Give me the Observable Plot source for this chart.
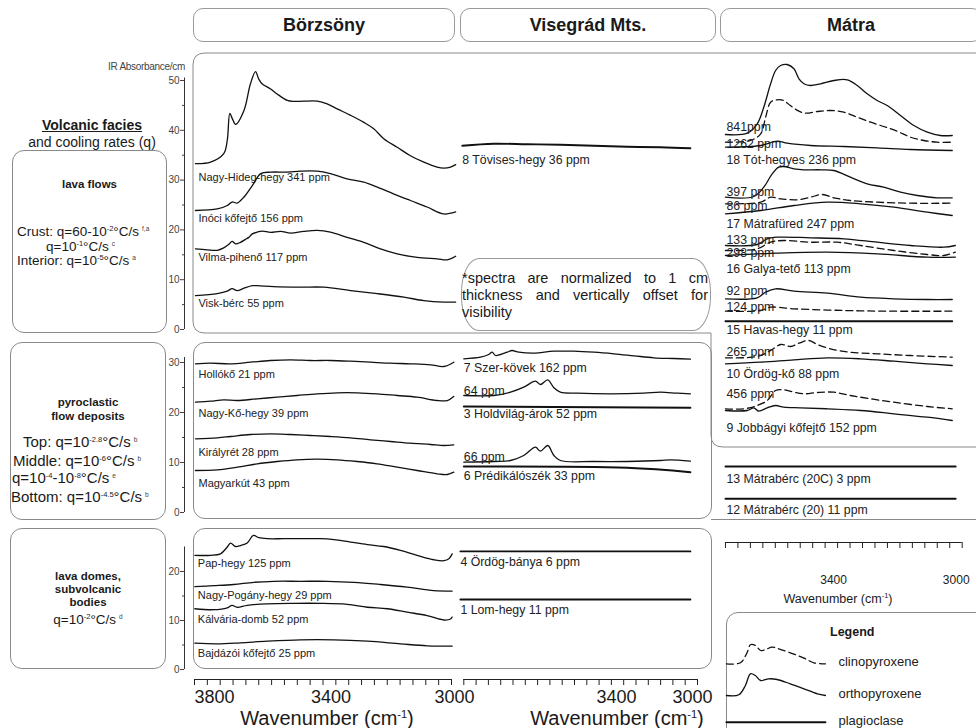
<!DOCTYPE html>
<html><head><meta charset="utf-8">
<script src="https://cdn.jsdelivr.net/npm/d3@7"></script>
<script src="https://cdn.jsdelivr.net/npm/@observablehq/plot@0.6"></script>
<style>
body{margin:0;background:#fff;font-family:"Liberation Sans",Arial,sans-serif;color:#1a1a1a}
#fig{position:relative;width:976px;height:728px;overflow:hidden;background:#fff}
.abs{position:absolute;white-space:nowrap}
.box{position:absolute;border:1px solid #8a8a8a;border-radius:12px;box-sizing:border-box}
.hdr{position:absolute;top:8px;height:34px;border:1px solid #9a9a9a;border-radius:10px;box-sizing:border-box;display:flex;align-items:center;justify-content:center;font-weight:bold;font-size:18px}
sup{font-size:7.5px;vertical-align:5px;line-height:0}
sup.fn{font-size:6.5px;color:#444;margin-left:3px}
</style></head><body><div id="fig"></div>
<script>
// ---------------- DATA (wavenumber cm-1, absorbance/cm incl. vertical offset) ----------------
// Börzsöny – lava flows
const nagyHidegHegy = [[3797,33.3],[3750,33.6],[3709,35.3],[3698,38.0],[3690,43.4],[3682,42.3],[3672,41.2],[3646,44.0],[3626,49.3],[3610,51.8],[3600,50.3],[3589,49.3],[3563,48.3],[3543,47.3],[3511,46.0],[3491,45.8],[3460,45.85],[3418,45.85],[3387,45.3],[3356,44.3],[3314,43.0],[3273,41.6],[3242,40.3],[3211,38.3],[3169,36.6],[3128,34.9],[3086,33.6],[3045,32.6],[3024,32.4],[3003,32.6],[2987,33.1]];
const inociKofejto = [[3797,23.9],[3729,24.2],[3698,24.9],[3683,25.6],[3667,25.4],[3646,26.6],[3620,28.9],[3594,31.3],[3563,31.6],[3511,31.6],[3470,31.8],[3418,31.8],[3377,31.3],[3325,30.25],[3273,29.6],[3231,28.6],[3179,27.2],[3128,25.9],[3076,24.6],[3024,23.2],[2987,23.6]];
const vilmaPiheno = [[3797,16.2],[3761,16.0],[3729,15.9],[3709,16.4],[3693,17.1],[3683,17.7],[3672,17.2],[3657,17.5],[3641,18.1],[3631,18.5],[3620,19.2],[3605,19.55],[3589,19.75],[3563,19.5],[3532,19.7],[3501,19.35],[3460,19.7],[3418,19.9],[3377,19.55],[3325,18.5],[3273,17.5],[3221,16.2],[3169,15.2],[3107,14.5],[3045,14.2],[3013,14.0],[2987,14.7]];
const viskBerc = [[3797,6.8],[3729,7.2],[3698,7.7],[3683,8.2],[3667,7.8],[3646,8.3],[3620,8.8],[3605,8.8],[3553,8.6],[3470,8.5],[3397,8.5],[3314,7.8],[3231,7.2],[3148,6.5],[3086,5.8],[3024,5.5],[2987,5.5]];
// Börzsöny – pyroclastic flow deposits
const holloko = [[3797,29.74],[3750,29.86],[3688,29.74],[3626,30.06],[3564,30.4],[3501,30.54],[3439,30.4],[3377,30.4],[3315,30.26],[3252,30.06],[3190,29.86],[3128,29.74],[3065,29.54],[3024,29.2],[2993,30.06]];
const nagyKoHegy = [[3797,22.06],[3750,22.26],[3709,22.54],[3667,22.4],[3605,22.74],[3543,23.06],[3481,23.4],[3418,23.74],[3356,23.94],[3294,23.94],[3232,23.74],[3169,23.4],[3107,23.06],[3045,22.4],[3013,22.4],[2993,23.2]];
const kiralyret = [[3797,14.74],[3729,14.94],[3688,15.2],[3626,15.6],[3564,15.74],[3501,15.6],[3439,15.4],[3377,15.2],[3315,14.94],[3252,14.54],[3190,14.2],[3128,13.86],[3065,13.6],[3024,13.4],[2993,13.54]];
const magyarkut = [[3797,8.4],[3729,8.54],[3667,9.06],[3605,9.74],[3543,10.2],[3481,10.54],[3418,10.66],[3356,10.54],[3294,10.2],[3232,9.74],[3169,9.06],[3107,8.4],[3045,7.74],[3013,7.6],[2993,8.06]];
// Börzsöny – lava domes
const papHegy = [[3799,23.3],[3750,23.3],[3719,23.6],[3698,25.0],[3688,25.8],[3672,25.1],[3657,25.3],[3636,25.8],[3617,27.35],[3600,26.9],[3574,26.7],[3522,26.7],[3470,26.7],[3408,26.7],[3366,26.5],[3314,26.0],[3262,25.5],[3211,25.1],[3159,24.3],[3107,23.3],[3055,22.4],[3024,22.2],[3008,22.6],[2998,23.6]];
const nagyPoganyHegy = [[3799,16.9],[3740,17.1],[3678,17.35],[3615,17.8],[3553,18.0],[3470,18.0],[3387,18.0],[3304,17.8],[3221,17.35],[3138,16.8],[3055,16.1],[2998,16.0]];
const kalvariaDomb = [[3799,12.4],[3740,12.2],[3698,12.6],[3683,13.1],[3667,12.7],[3636,13.1],[3574,13.4],[3491,13.5],[3408,13.5],[3325,13.3],[3262,12.7],[3200,12.4],[3138,11.7],[3076,11.0],[3024,10.1],[3003,10.3],[2998,10.7]];
const bajdazoiKofejto = [[3799,5.37],[3729,5.24],[3657,5.45],[3574,5.78],[3470,6.06],[3366,6.06],[3262,5.78],[3159,5.24],[3076,4.84],[2998,4.76]];
// Visegrád Mts.
const tovisesHegy = [[3765,36.9],[3662,37.3],[3554,37.2],[3446,37.1],[3337,36.9],[3229,36.7],[3120,36.6],[3023,36.4]];
const szerKovek = [[3760,30.74],[3706,31.06],[3679,31.6],[3668,32.06],[3657,31.4],[3641,31.6],[3619,32.06],[3603,32.4],[3581,32.06],[3532,31.86],[3467,32.26],[3402,32.26],[3337,32.06],[3272,31.74],[3207,31.34],[3142,30.94],[3077,30.8],[3023,30.66]];
const holdvilag64 = [[3760,23.4],[3662,23.4],[3608,24.06],[3565,25.06],[3527,26.26],[3511,25.6],[3487,26.54],[3467,24.94],[3446,24.06],[3391,23.86],[3283,23.74],[3175,23.86],[3120,24.06],[3066,23.86],[3023,23.74]];
const holdvilag52 = [[3760,21.2],[3023,20.94]];
const predikalo66 = [[3760,10.06],[3662,10.2],[3608,10.4],[3565,11.4],[3527,13.06],[3511,12.26],[3487,13.4],[3467,11.4],[3446,10.4],[3337,10.2],[3229,10.2],[3120,10.4],[3088,10.54],[3023,10.26]];
const predikalo33 = [[3760,9.2],[3229,8.94],[3023,8.06]];
const ordogBanya = [[3771,24.1],[3023,24.1]];
const lomHegy = [[3771,14.3],[3023,14.3]];
// Mátra (one stacked column)
const totHegyesOpx = [[3760,79.2],[3690,79.46],[3658,81.34],[3637,84.66],[3615,89.34],[3599,92],[3583,93],[3562,93.2],[3540,92.34],[3524,90.34],[3508,89.34],[3487,89],[3455,89.34],[3412,90],[3369,90.14],[3337,89],[3305,87.34],[3273,86],[3241,85],[3198,83],[3155,81],[3112,79.66],[3070,79],[3032,79]];
const totHegyesCpx = [[3760,77.66],[3680,78],[3647,79.34],[3631,82.66],[3615,85.66],[3595,86.14],[3573,86],[3552,85],[3524,83.86],[3503,83.46],[3465,83.8],[3423,84],[3380,83.66],[3337,82.66],[3294,81.66],[3252,80.8],[3209,79.86],[3166,78.66],[3123,78],[3080,77.66],[3032,77.66]];
const totHegyesPlag = [[3760,76.66],[3647,77],[3594,77.86],[3562,77.46],[3487,77],[3380,76.8],[3273,76.54],[3166,76.2],[3032,76]];
const matrafuredOpx = [[3760,66.66],[3669,66.8],[3637,68.66],[3610,71.34],[3589,72.66],[3573,72.8],[3540,72.34],[3508,72.14],[3455,72.14],[3412,72],[3359,70.66],[3305,69.34],[3252,68.66],[3198,67.66],[3144,67],[3080,66.54],[3032,66.54]];
const matrafuredCpx = [[3760,65.34],[3647,65.66],[3615,66.66],[3583,66.34],[3530,66.14],[3487,66.66],[3449,67.2],[3412,66.54],[3359,66],[3273,65.66],[3166,65.46],[3032,65.46]];
const matrafuredPlag = [[3760,63.34],[3647,64],[3540,65],[3433,65.66],[3326,65.34],[3219,64.66],[3112,63.66],[3032,63]];
const galyaTetoOpx = [[3760,57],[3658,57.2],[3626,58.34],[3594,58.66],[3487,58.54],[3380,58.34],[3273,57.66],[3166,57],[3059,56.66],[3022,57]];
const galyaTetoCpx = [[3760,56],[3658,56.34],[3615,57.66],[3573,58],[3487,57.66],[3401,57.66],[3326,57],[3219,56],[3112,55.2],[3059,55],[3022,55.66]];
const galyaTetoPlag = [[3760,55],[3594,55.46],[3433,55.66],[3273,55.34],[3112,54.66],[3022,54.66]];
const havasHegyOpx = [[3760,46.34],[3658,46.54],[3631,47.66],[3599,48.34],[3540,47.86],[3433,47.46],[3326,46.66],[3219,46.34],[3112,46.2],[3032,46.2]];
const havasHegyCpx = [[3760,43.86],[3647,44],[3615,44.66],[3540,44.34],[3380,44],[3219,43.86],[3032,43.86]];
const havasHegyPlag = [[3760,41.86],[3032,41.86]];
const ordogKoCpx = [[3760,34.54],[3658,34.8],[3615,36],[3583,37.2],[3551,36.8],[3524,37.46],[3492,38],[3465,37.2],[3423,36.34],[3359,35.66],[3273,35.34],[3166,35],[3032,34.66]];
const ordogKoPlag = [[3760,33.34],[3647,33.66],[3540,34.14],[3433,34.54],[3326,34.34],[3219,33.86],[3112,33.34],[3032,33]];
const jobbagyiCpx = [[3760,24.34],[3701,24.34],[3658,25],[3626,26],[3599,28],[3573,28.14],[3540,27.66],[3508,27.34],[3465,27.6],[3412,27.66],[3359,27],[3294,26.34],[3219,25.66],[3112,24.8],[3032,24.34]];
const jobbagyiPlag = [[3760,24],[3690,24],[3669,24.54],[3653,23.86],[3626,24.54],[3599,25],[3573,24.66],[3519,24.54],[3433,24.34],[3326,24],[3219,23.34],[3112,22.66],[3032,22]];
const matraberc20C = [[3760,12.8],[3021,12.8]];
const matraberc20 = [[3760,6.34],[3021,6.34]];
// Legend curves
const legendCpx = [[3757,12.34],[3712,12.54],[3690,14.66],[3680,16.14],[3664,16],[3647,15],[3631,15.2],[3610,15.66],[3589,15.34],[3552,14.54],[3508,13.46],[3476,12.54],[3439,12.34]];
const legendOpx = [[3757,6],[3717,6.14],[3696,8],[3680,10.34],[3664,10],[3647,9],[3621,9.34],[3594,9.2],[3552,8.34],[3508,7.34],[3465,6.34],[3439,6]];
const legendPlag = [[3757,0.66],[3439,0.66]];

// tick values
const yTicksLava = [0,10,20,30,40,50], yMinorLava = [5,15,25,35,45];
const yTicksPyro = [0,10,20,30], yMinorPyro = [5,15,25];
const yTicksDome = [0,10,20], yMinorDome = [5,15];
const xTicksFull = d3.range(3800, 2999, -40);
const xTicksShort = d3.range(3760, 2999, -40);
const xLabelsFull = [3800, 3400, 3000];
const xLabelsShort = [3400, 3000];

// panel contents (label, line kind, label offset)
const borzsonyLava = [
  {data: nagyHidegHegy, label: "Nagy-Hideg-hegy 341 ppm", kind: "main", dy: 14},
  {data: inociKofejto, label: "Inóci kőfejtő 156 ppm", kind: "main", dy: 8},
  {data: vilmaPiheno, label: "Vilma-pihenő 117 ppm", kind: "main", dy: 9},
  {data: viskBerc, label: "Visk-bérc 55 ppm", kind: "main", dy: 8}];
const borzsonyPyro = [
  {data: holloko, label: "Hollókő 21 ppm", kind: "main", dy: 11},
  {data: nagyKoHegy, label: "Nagy-Kő-hegy 39 ppm", kind: "main", dy: 11},
  {data: kiralyret, label: "Királyrét 28 ppm", kind: "main", dy: 14},
  {data: magyarkut, label: "Magyarkút 43 ppm", kind: "main", dy: 13}];
const borzsonyDome = [
  {data: papHegy, label: "Pap-hegy 125 ppm", kind: "main", dy: 8},
  {data: nagyPoganyHegy, label: "Nagy-Pogány-hegy 29 ppm", kind: "main", dy: 9},
  {data: kalvariaDomb, label: "Kálvária-domb 52 ppm", kind: "main", dy: 11},
  {data: bajdazoiKofejto, label: "Bajdázói kőfejtő 25 ppm", kind: "main", dy: 10}];
const visegradLava = [
  {data: tovisesHegy, label: "8 Tövises-hegy 36 ppm", kind: "thick", dy: 14}];
const visegradPyro = [
  {data: szerKovek, label: "7 Szer-kövek 162 ppm", kind: "main", dy: 9},
  {data: holdvilag64, label: "64 ppm", kind: "main", dy: -4},
  {data: holdvilag52, label: "3 Holdvilág-árok 52 ppm", kind: "thick", dy: 8},
  {data: predikalo66, label: "66 ppm", kind: "main", dy: -5},
  {data: predikalo33, label: "6 Prédikálószék 33 ppm", kind: "thick", dy: 10}];
const visegradDome = [
  {data: ordogBanya, label: "4 Ördög-bánya 6 ppm", kind: "thick", dy: 11},
  {data: lomHegy, label: "1 Lom-hegy 11 ppm", kind: "thick", dy: 11}];
const matraSpectra = [
  {data: totHegyesOpx, label: "841ppm", kind: "main", dy: -7},
  {data: totHegyesCpx, label: "1262 ppm", kind: "dash", dy: 2},
  {data: totHegyesPlag, label: "18 Tót-hegyes 236 ppm", kind: "main", dy: 13},
  {data: matrafuredOpx, label: "397 ppm", kind: "main", dy: -5},
  {data: matrafuredCpx, label: "86 ppm", kind: "dash", dy: 2},
  {data: matrafuredPlag, label: "17 Mátrafüred 247 ppm", kind: "main", dy: 10},
  {data: galyaTetoOpx, label: "133 ppm", kind: "main", dy: -5},
  {data: galyaTetoCpx, label: "298 ppm", kind: "dash", dy: 3},
  {data: galyaTetoPlag, label: "16 Galya-tető 113 ppm", kind: "main", dy: 14},
  {data: havasHegyOpx, label: "92 ppm", kind: "main", dy: -8},
  {data: havasHegyCpx, label: "124 ppm", kind: "dash", dy: -4},
  {data: havasHegyPlag, label: "15 Havas-hegy 11 ppm", kind: "thick", dy: 9},
  {data: ordogKoCpx, label: "265 ppm", kind: "dash", dy: -6},
  {data: ordogKoPlag, label: "10 Ördög-kő 88 ppm", kind: "main", dy: 10},
  {data: jobbagyiCpx, label: "456 ppm", kind: "dash", dy: -15},
  {data: jobbagyiPlag, label: "9 Jobbágyi kőfejtő 152 ppm", kind: "main", dy: 18},
  {data: matraberc20C, label: "13 Mátrabérc (20C) 3 ppm", kind: "thick", dy: 13},
  {data: matraberc20, label: "12 Mátrabérc (20) 11 ppm", kind: "thick", dy: 11}];
const legendItems = [
  {data: legendCpx, label: "clinopyroxene", kind: "dash"},
  {data: legendOpx, label: "orthopyroxene", kind: "main"},
  {data: legendPlag, label: "plagioclase", kind: "thick"}];

// ---------------- RENDERING ----------------
const FONT = "Liberation Sans, Arial, sans-serif";
const fig = document.getElementById("fig");
const STYLE = {main: {w: 1.3}, thick: {w: 1.9}, dash: {w: 1.3, dash: "7,4"}};

function place(node, left, top) {
  node.style.position = "absolute";
  node.style.left = left + "px";
  node.style.top = top + "px";
  node.style.overflow = "visible";
  node.style.background = "transparent";
  node.style.maxWidth = "none";
  fig.appendChild(node);
}
function html(s, left, top, css = "") {
  const d = document.createElement("div");
  d.className = "abs"; d.innerHTML = s;
  d.style.cssText += `left:${left}px;top:${top}px;` + css;
  fig.appendChild(d); return d;
}
function box(left, top, w, h, css = "") {
  const d = document.createElement("div");
  d.className = "box";
  d.style.cssText += `left:${left}px;top:${top}px;width:${w}px;height:${h}px;` + css;
  fig.appendChild(d);
}

// page-pixel geometry of each panel (where 3800 and 3000 cm-1 fall, where absorbance 0 falls, px per unit)
const GEO = {
  bor: {x3800: 194, x3000: 451},
  vis: {x3800: 451, x3000: 697},
  mat: {x3800: 712.5, x3000: 961.7},
  r1: {top: 53, bottom: 333, zero: 329, ppu: 4.98},
  r2: {top: 342, bottom: 520, zero: 512, ppu: 5},
  r3: {top: 528, bottom: 668, zero: 669, ppu: 4.9},
  matY: {top: 53, bottom: 540, zero: 530, ppu: 5},
  legY: {top: 612, bottom: 740, zero: 725, ppu: 5}
};

function specMarks(list, labelDx, fontSize, legend = false) {
  return list.flatMap(s => {
    const st = STYLE[s.kind];
    const line = Plot.line(s.data, {x: d => d[0], y: d => d[1], curve: "catmull-rom",
      stroke: "#111", strokeWidth: st.w, ...(st.dash ? {strokeDasharray: st.dash} : {})});
    const txt = legend
      ? Plot.text([s], {x: d => d.data[d.data.length - 1][0], y: d => d.data[d.data.length - 1][1], text: d => d.label,
          textAnchor: "start", lineAnchor: "middle", dx: 13, dy: -1.5, fontSize, fill: "#222"})
      : Plot.text([s], {x: d => d.data[0][0], y: d => d.data[0][1], text: d => d.label,
          textAnchor: "start", lineAnchor: "middle", dx: labelDx, dy: s.dy, fontSize, fill: "#222"});
    return [line, txt];
  });
}

function panel(gx, gy, marks) {
  const xa = Math.round(gx.x3800) - 4, xb = Math.round(gx.x3000) + 10;
  const p = Plot.plot({
    width: xb - xa, height: gy.bottom - gy.top,
    marginTop: 0, marginRight: 0, marginBottom: 0, marginLeft: 0,
    x: {domain: [3800, 3000], range: [gx.x3800 - xa, gx.x3000 - xa], axis: null},
    y: {domain: [0, 10], range: [gy.zero - gy.top, gy.zero - gy.top - 10 * gy.ppu], axis: null},
    style: {fontFamily: FONT, background: "transparent", overflow: "visible"},
    marks
  });
  place(p, xa, gy.top);
}

function yAxis(gy, majors, minors, max, axisX) {
  const top = gy.top + 10, bottom = gy.bottom + 10;
  const p = Plot.plot({
    width: 41, height: bottom - top,
    marginTop: 0, marginRight: 0, marginBottom: 0, marginLeft: 40,
    x: {domain: [0, 1], range: [40, 41], axis: null},
    y: {domain: [0, 10], range: [gy.zero - top, gy.zero - top - 10 * gy.ppu]},
    style: {fontFamily: FONT, background: "transparent", overflow: "visible"},
    marks: [
      Plot.ruleX([0], {y1: 0, y2: max, stroke: "#333", strokeWidth: 1}),
      Plot.axisY({ticks: majors, anchor: "left", tickSize: 4, tickPadding: 1, fontSize: 10, color: "#444", label: null}),
      Plot.axisY({ticks: minors, anchor: "left", tickSize: 2, tickFormat: () => "", color: "#444", label: null})
    ]
  });
  place(p, axisX - 40, top);
}

// labelShift: horizontal nudge (px) of each tick label, as placed in the original figure
function xAxis(gx, baseline, ticks, labels, fontSize, labelDy, labelShift) {
  const xa = Math.round(gx.x3800) - 30, xb = Math.round(gx.x3000) + 40;
  const H = 50;
  const p = Plot.plot({
    width: xb - xa, height: H,
    marginTop: 0, marginRight: 0, marginBottom: H - 1, marginLeft: 0,
    x: {domain: [3800, 3000], range: [gx.x3800 - xa, gx.x3000 - xa]},
    y: {domain: [0, 1], range: [1, 0], axis: null},
    style: {fontFamily: FONT, background: "transparent", overflow: "visible"},
    marks: [
      Plot.ruleY([0], {x1: ticks[0], x2: ticks[ticks.length - 1], stroke: "#222"}),
      Plot.axisX({ticks, anchor: "bottom", tickSize: 6, tickFormat: () => "", color: "#222", label: null}),
      ...labels.map((v, i) => Plot.text([v], {x: d => d, frameAnchor: "bottom", text: d => String(d),
        lineAnchor: "middle", textAnchor: "middle", dy: labelDy, dx: labelShift[i], fontSize, fill: "#1a1a1a"}))
    ]
  });
  place(p, xa, baseline - 1);
}

// ---- decorations (boxes) ----
[["Börzsöny", 193, 262], ["Visegrád Mts.", 460, 256], ["Mátra", 720, 262]].forEach(([t, l, w]) => {
  const d = document.createElement("div"); d.className = "hdr";
  d.style.left = l + "px"; d.style.width = w + "px"; d.textContent = t; fig.appendChild(d);
});
const ns = "http://www.w3.org/2000/svg";
const deco = document.createElementNS(ns, "svg");
deco.setAttribute("width", 976); deco.setAttribute("height", 728);
deco.style.cssText = "position:absolute;left:0;top:0";
deco.innerHTML = `<path d="M990 53 H205 Q193 53 193 65 V321 Q193 333 205 333 H711 V435 Q711 447 723 447 H990" fill="none" stroke="#8a8a8a"/>
<line x1="711" y1="519.5" x2="976" y2="519.5" stroke="#8a8a8a"/>`;
fig.appendChild(deco);
box(193, 342, 519, 177);
box(193, 528, 519, 141);
box(12, 150, 155, 183);
box(10, 342, 156, 178);
box(10, 528, 156, 141);
box(726, 612, 280, 140);
box(461, 258, 250, 73, "border-radius:18px/34px;border-color:#999");

// ---- left texts ----
html("<b><u>Volcanic facies</u></b><br>and cooling rates (q)", 0, 117, "width:184px;text-align:center;font-size:14px;line-height:17px");
html("<b>lava flows</b>", 12, 178, "width:155px;text-align:center;font-size:11.5px");
html("Crust: q=60-10<sup>-2</sup>°C/s<sup class=fn>f,a</sup>", 17, 225, "font-size:13.5px;line-height:14px");
html("q=10<sup>-1</sup>°C/s<sup class=fn>c</sup>", 46, 240, "font-size:13.5px;line-height:14px");
html("Interior: q=10<sup>-5</sup>°C/s<sup class=fn>a</sup>", 17, 254, "font-size:13.5px;line-height:14px");
html("<b>pyroclastic<br>flow deposits</b>", 10, 395, "width:156px;text-align:center;font-size:11.5px;line-height:14px");
html("Top: q=10<sup>-2.8</sup>°C/s<sup class=fn>b</sup>", 23, 433, "font-size:15px;line-height:17px");
html("Middle: q=10<sup>-6</sup>°C/s<sup class=fn>b</sup>", 13, 452, "font-size:15px;line-height:17px");
html("q=10<sup>-4</sup>-10<sup>-8</sup>°C/s<sup class=fn>e</sup>", 12, 469, "font-size:15px;line-height:17px");
html("Bottom: q=10<sup>-4.5</sup>°C/s<sup class=fn>b</sup>", 11, 488, "font-size:15px;line-height:17px");
html("<b>lava domes,<br>subvolcanic<br>bodies</b>", 10, 570, "width:156px;text-align:center;font-size:11.5px;line-height:12.8px");
html("q=10<sup>-2</sup>°C/s<sup class=fn>d</sup>", 10, 612, "width:156px;text-align:center;font-size:13.5px");
html("IR Absorbance/cm", 100, 61, "width:85px;text-align:right;font-size:10px;line-height:11px;color:#444;letter-spacing:-0.3px");
html("*spectra are normalized to 1 cm thickness and vertically offset for visibility", 462, 270,
  "white-space:normal;width:246px;text-align:justify;font-size:14.5px;line-height:17px;text-align-last:left");

// ---- spectra panels ----
panel(GEO.bor, GEO.r1, specMarks(borzsonyLava, 3, 11));
panel(GEO.bor, GEO.r2, specMarks(borzsonyPyro, 3, 11));
panel(GEO.bor, GEO.r3, specMarks(borzsonyDome, 3, 11));
panel(GEO.vis, GEO.r1, specMarks(visegradLava, 0, 12.3));
panel(GEO.vis, GEO.r2, specMarks(visegradPyro, 0, 12.3));
panel(GEO.vis, GEO.r3, specMarks(visegradDome, 0, 12.3));
panel(GEO.mat, GEO.matY, specMarks(matraSpectra, 1, 12.3));
panel(GEO.mat, GEO.legY, specMarks(legendItems, 0, 13, true));

// ---- axes ----
yAxis(GEO.r1, yTicksLava, yMinorLava, 50.5, 184);
yAxis(GEO.r2, yTicksPyro, yMinorPyro, 31, 184);
yAxis(GEO.r3, yTicksDome, yMinorDome, 25, 184);
xAxis(GEO.bor, 679, xTicksFull, xLabelsFull, 18, 18, [20, 8, 3]);
xAxis(GEO.vis, 679, xTicksShort, xLabelsShort, 18, 18, [42, -5]);
xAxis(GEO.mat, 542, xTicksShort, xLabelsShort, 12, 38, [-4, -6]);
html("Wavenumber (cm<sup style='font-size:11px;vertical-align:7px'>-1</sup>)", 192, 709, "width:270px;text-align:center;font-size:20px;line-height:19px");
html("Wavenumber (cm<sup style='font-size:11px;vertical-align:7px'>-1</sup>)", 482, 709, "width:270px;text-align:center;font-size:20px;line-height:19px");
html("Wavenumber (cm<sup>-1</sup>)", 760, 592, "width:156px;text-align:center;font-size:12.5px");
html("<b>Legend</b>", 830, 625, "font-size:12.5px");
</script></body></html>
